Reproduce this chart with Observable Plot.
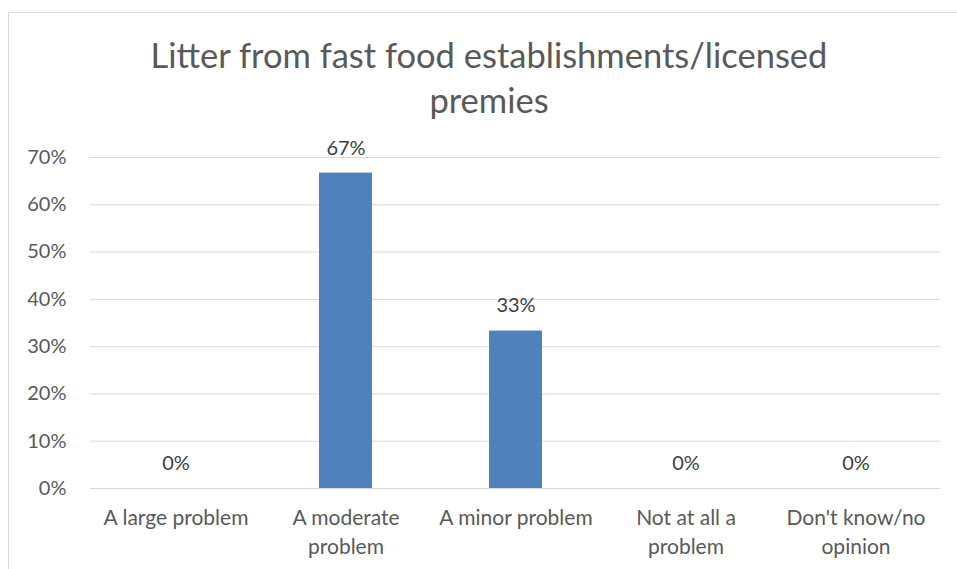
<!DOCTYPE html>
<html><head><meta charset="utf-8">
<script src="https://cdn.jsdelivr.net/npm/d3@7"></script>
<script src="https://cdn.jsdelivr.net/npm/@observablehq/plot@0.6"></script>
<style>
body{margin:0;background:#fff;}
#wrap{position:relative;width:957px;height:569px;overflow:hidden;font-family:Lato, sans-serif;background:#fff;}
#frame{position:absolute;left:8px;top:12px;width:960px;height:600px;border-left:1px solid #d9d9d9;border-top:1px solid #d9d9d9;}
#chart{position:absolute;left:0;top:0;}
#title{position:absolute;left:0;top:32px;width:978px;text-align:center;font-size:34.5px;line-height:45px;color:#595959;}
</style></head>
<body>
<div id="wrap"><div id="frame"></div><div id="chart"></div><div id="title">Litter from fast food establishments/licensed<br>premies</div></div>
<script>
const categories = ["A large problem","A moderate problem","A minor problem","Not at all a problem","Don't know/no opinion"];
const wrapped = ["A large problem","A moderate\nproblem","A minor problem","Not at all a\nproblem","Don't know/no\nopinion"];
const values = [0, 0.667, 0.333, 0, 0];
const yTicks = [0,0.1,0.2,0.3,0.4,0.5,0.6,0.7];
const data = categories.map((c,i)=>({cat:c, v:values[i], label: Math.round(values[i]*100)+"%"}));
const wrapMap = new Map(categories.map((c,i)=>[c,wrapped[i]]));
const chart = Plot.plot({
  width:957, height:569,
  marginTop:157, marginBottom:81, marginLeft:90, marginRight:17,
  style:{fontFamily:"Lato, sans-serif", fontSize:"18px", color:"#595959", background:"transparent"},
  x:{domain:categories, paddingInner:0.69, paddingOuter:0.345, label:null},
  y:{domain:[0,0.7], label:null},
  marks:[
    Plot.gridY(yTicks,{stroke:"#d9d9d9", strokeOpacity:1, strokeWidth:1}),
    Plot.barY(data,{x:"cat", y:"v", fill:"#4F81BD"}),
    Plot.text(data,{x:"cat", y:"v", text:"label", dy:-25, fill:"#404040", fontSize:20}),
    Plot.axisY(yTicks,{tickSize:0, tickPadding:24, tickFormat:d=>Math.round(d*100)+"%", fill:"#595959", fontSize:20}),
    Plot.axisX({tickSize:0, tickPadding:16, tickFormat:d=>wrapMap.get(d), fill:"#595959", fontSize:21, lineHeight:1.38, textAnchor:"middle"})
  ]
});
document.getElementById("chart").appendChild(chart);
</script>
</body></html>
